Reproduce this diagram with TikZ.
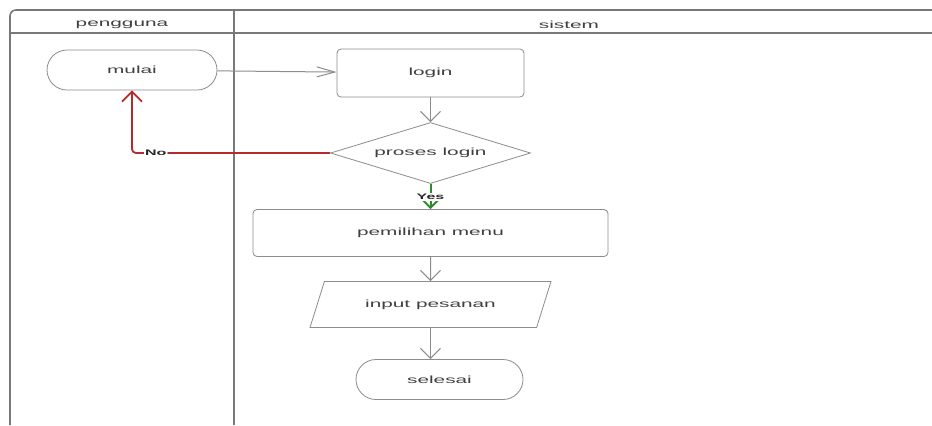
\documentclass[tikz,border=0pt]{standalone}
\usepackage{fontspec}
\newfontfamily\flowfont[FakeStretch=2.0]{Liberation Sans}
\usetikzlibrary{arrows.meta,shapes.geometric,positioning}
\definecolor{lanegray}{HTML}{787878}
\definecolor{linegray}{HTML}{8C8C8C}
\definecolor{nored}{HTML}{B52B2B}
\definecolor{yesgreen}{HTML}{2E8B2E}
\tikzset{
    terminal/.style = {rectangle,
                    rounded corners=10pt,
                    fill=white,
                    draw=linegray,
                    text=black!75,
                    minimum width=85pt,
                    minimum height=20pt},
    process/.style = {rectangle,
                    rounded corners=2pt,
                    fill=white,
                    draw=linegray,
                    text=black!75,
                    minimum height=24pt},
    decision/.style = {diamond,
                    aspect=3.3,
                    inner sep=0pt,
                    fill=white,
                    draw=linegray,
                    text=black!75,
                    minimum width=100pt,
                    minimum height=30.5pt},
    io/.style =     {trapezium,
                    trapezium left angle=58,
                    trapezium right angle=122,
                    trapezium stretches body,
                    fill=white,
                    draw=linegray,
                    text=black!75,
                    minimum width=120.5pt,
                    minimum height=23pt},
    lanehead/.style = {text=black!75},
    branch/.style = {fill=white,
                    text=black!85,
                    inner sep=0.6pt,
                    font=\flowfont\bfseries\fontsize{4}{5}\selectfont},
    -,
    lane/.style =   {draw=lanegray, line width=0.8pt},
    flow/.style =   {draw=linegray, line width=0.5pt},
    htip/.style =   {-{Straight Barb[length=9pt,width=5pt]}},
    vtip/.style =   {-{Straight Barb[length=5pt,width=10pt]}},
    node distance=40pt}

\begin{document}
\begin{tikzpicture}[x=0.5pt,y=-0.5pt,font=\flowfont\fontsize{5.2}{6}\selectfont]
                \useasboundingbox (0,0) rectangle (932,425);
                % swimlanes
                \draw [lane,rounded corners=3pt] (932,10) -- (10,10) -- (10,425);
                \draw [lane] (10,33) -- (932,33);
                \draw [lane] (234,10) -- (234,425);
                \node[lanehead]     (hpengguna) at (122,24.5)   {pengguna};
                \node[lanehead]     (hsistem)   at (569,24.5)   {sistem};
                % flow
                \node[terminal]     (mulai)     at (132,70)     {mulai};
                \node[process,minimum width=93.5pt] (login) at (430.5,73) {login};
                \node[decision]     (cek)       [below of=login]    {proses login};
                \node[process,minimum width=177.5pt,minimum height=23.5pt]
                                    (menu)      [below of=cek]      {pemilihan menu};
                \node[io]           (pesan)     [below of=menu,node distance=35.75pt] {input pesanan};
                \node[terminal,minimum width=83.5pt]
                                    (selesai)   [below of=pesan,node distance=37.5pt,xshift=4.5pt] {selesai};
                \coordinate         (masuk)     at (pesan.south |- selesai.north);
                \path [flow,htip]   (mulai) edge (login);
                \path [flow,vtip]   (login) edge (cek)
                                    (menu) edge (pesan);
                \draw [flow,vtip]   (pesan.south) -- (masuk);
                \draw [vtip,draw=nored,line width=0.9pt,rounded corners=2pt]
                                    (cek.west) -| node[branch,pos=0.44] {No} (mulai.south);
                \draw [vtip,draw=yesgreen,line width=1pt]
                                    (cek.south) -- node[branch,pos=0.5] {Yes} (menu.north);
        \end{tikzpicture}
\end{document}
